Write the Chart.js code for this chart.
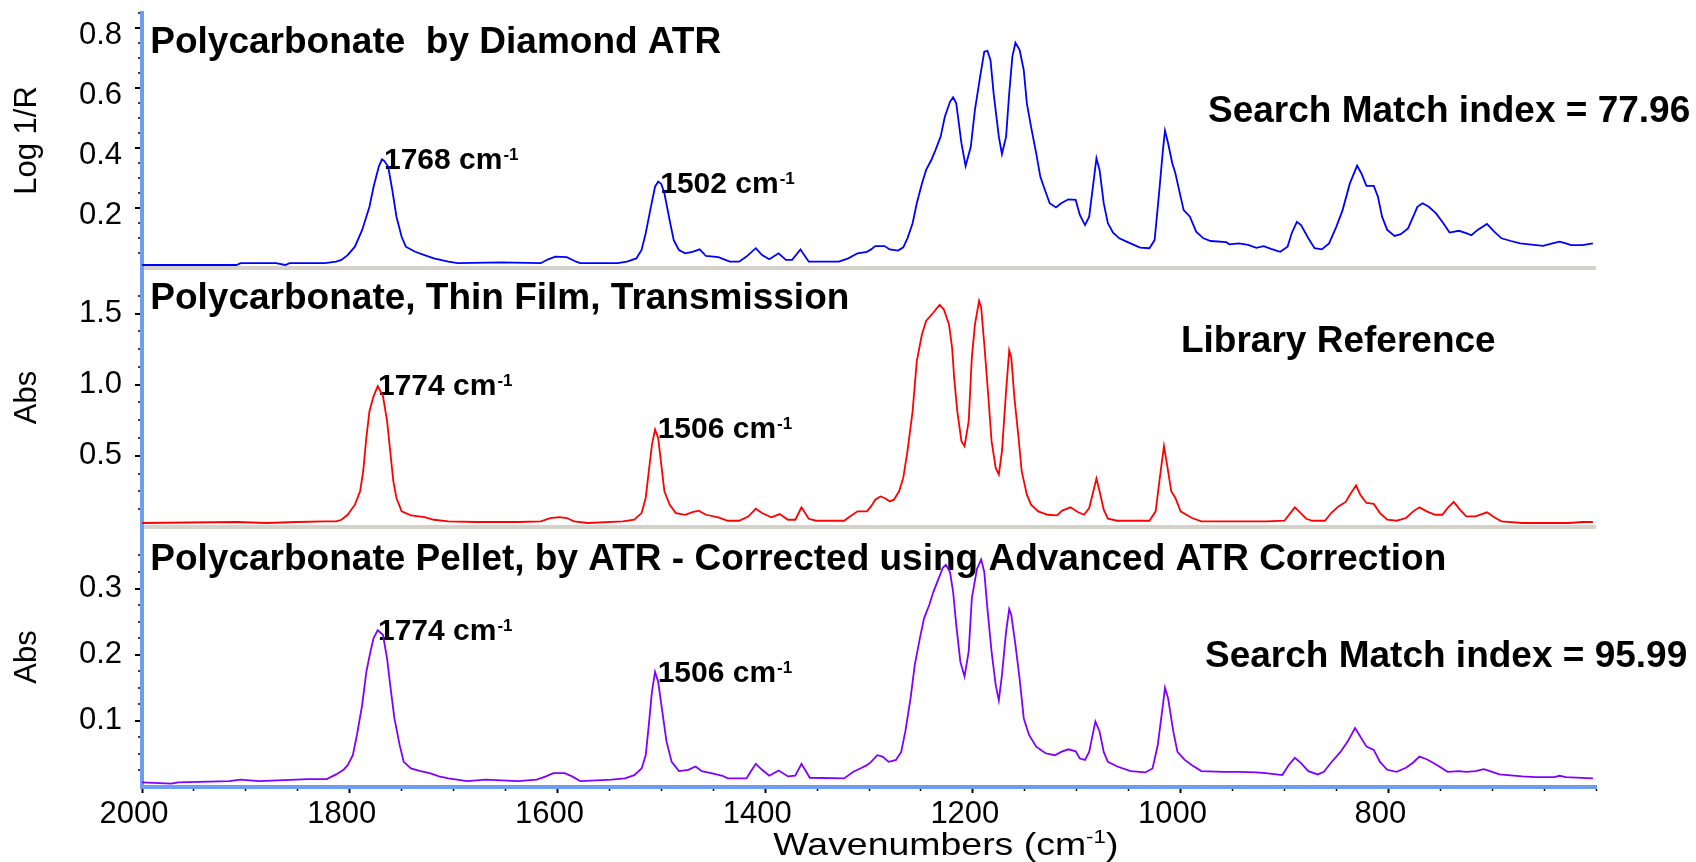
<!DOCTYPE html>
<html>
<head>
<meta charset="utf-8">
<title>Polycarbonate spectra</title>
<script src="https://cdn.jsdelivr.net/npm/chart.js@4.4.1/dist/chart.umd.min.js"></script>
<style>
  html, body { margin: 0; padding: 0; background: #fff; }
  #wrap { width: 1696px; height: 862px; position: relative; }
</style>
</head>
<body>
<div id="wrap"><canvas id="spectra"></canvas></div>
<script>
"use strict";

/*----------------------------------------*/
/*  data
/*----------------------------------------*/
var diamondWn = [2000,1909,1905,1871,1862,1858,1824,1813,1808,1802,1795,1788,1781,1777,1772,1769,1767,1763,1759,1755,
  1750,1746,1737,1728,1719,1705,1696,1654,1616,1609,1602,1591,1582,1578,1542,1533,1524,1519,1515,1510,
  1506,1503,1500,1497,1492,1488,1483,1477,1470,1463,1457,1445,1434,1425,1418,1409,1403,1396,1387,1380,
  1374,1366,1358,1329,1320,1311,1302,1298,1294,1285,1280,1272,1267,1263,1258,1254,1249,1245,1240,1236,
  1231,1227,1222,1219,1216,1211,1207,1202,1198,1193,1189,1186,1183,1180,1175,1172,1168,1165,1162,1159,
  1155,1151,1148,1144,1139,1135,1130,1126,1120,1115,1108,1101,1097,1092,1088,1084,1081,1078,1074,1070,
  1065,1059,1052,1045,1039,1030,1025,1021,1017,1015,1012,1008,1005,1000,997,991,985,978,971,956,
  953,944,935,927,920,913,904,897,893,888,884,877,871,864,857,850,844,837,830,826,
  821,814,810,806,801,794,788,781,776,772,767,761,754,747,741,732,725,720,714,705,
  698,691,682,673,662,651,642,635,629,624,613,603];
var diamondLogR = [0.010,0.010,0.016,0.016,0.010,0.016,0.016,0.021,0.027,0.043,0.071,0.127,0.204,0.271,0.338,0.362,0.358,0.338,0.260,0.171,
  0.104,0.071,0.054,0.043,0.032,0.021,0.016,0.019,0.016,0.029,0.038,0.036,0.021,0.016,0.016,0.021,0.032,0.060,0.116,0.204,
  0.271,0.288,0.280,0.249,0.160,0.093,0.060,0.049,0.054,0.062,0.040,0.036,0.021,0.021,0.038,0.066,0.043,0.029,0.049,0.027,
  0.027,0.062,0.021,0.021,0.032,0.049,0.054,0.062,0.073,0.073,0.062,0.058,0.069,0.099,0.149,0.216,0.282,0.327,0.360,0.393,
  0.438,0.504,0.554,0.569,0.549,0.416,0.340,0.404,0.527,0.638,0.721,0.724,0.693,0.582,0.438,0.380,0.438,0.582,0.704,0.751,
  0.727,0.660,0.549,0.471,0.382,0.304,0.254,0.216,0.202,0.216,0.229,0.227,0.177,0.143,0.171,0.282,0.366,0.327,0.216,0.149,
  0.118,0.099,0.088,0.077,0.068,0.066,0.093,0.238,0.393,0.458,0.416,0.349,0.316,0.238,0.193,0.171,0.121,0.099,0.090,0.086,
  0.079,0.082,0.077,0.067,0.073,0.064,0.054,0.071,0.116,0.154,0.143,0.099,0.066,0.062,0.082,0.138,0.193,0.282,0.341,0.316,
  0.274,0.274,0.238,0.171,0.127,0.107,0.113,0.132,0.171,0.204,0.216,0.204,0.182,0.149,0.118,0.124,0.116,0.109,0.127,0.147,
  0.121,0.099,0.090,0.082,0.078,0.074,0.082,0.088,0.082,0.076,0.076,0.082];

var libraryWn = [2000,1909,1880,1851,1824,1813,1808,1802,1795,1790,1787,1784,1781,1777,1773,1768,1764,1761,1758,1755,
  1750,1741,1728,1719,1705,1678,1638,1616,1607,1598,1591,1584,1571,1537,1526,1519,1515,1512,1509,1506,
  1503,1500,1497,1492,1486,1477,1470,1464,1457,1445,1436,1425,1416,1409,1403,1394,1386,1378,1371,1365,
  1358,1351,1324,1318,1311,1302,1298,1294,1289,1285,1280,1276,1271,1267,1263,1258,1254,1249,1245,1238,
  1232,1228,1223,1220,1218,1215,1211,1208,1204,1201,1198,1194,1192,1189,1185,1182,1178,1175,1172,1168,
  1165,1163,1160,1156,1153,1148,1144,1137,1128,1119,1114,1106,1099,1093,1088,1084,1081,1078,1074,1070,
  1061,1030,1024,1020,1016,1013,1009,1005,1000,989,980,940,917,900,893,890,886,879,873,861,
  855,848,841,837,831,827,821,814,808,801,792,783,776,770,763,755,748,743,737,731,
  725,716,705,698,691,671,626,613,603];
var libraryAbs = [0.028,0.035,0.028,0.035,0.040,0.040,0.051,0.086,0.157,0.251,0.392,0.626,0.814,0.920,0.990,0.920,0.744,0.532,0.321,0.204,
  0.110,0.082,0.070,0.051,0.040,0.035,0.035,0.040,0.063,0.070,0.063,0.040,0.028,0.040,0.051,0.098,0.204,0.392,0.579,0.685,
  0.626,0.439,0.251,0.157,0.098,0.086,0.105,0.115,0.086,0.068,0.044,0.044,0.075,0.129,0.098,0.068,0.091,0.051,0.051,0.138,
  0.058,0.044,0.044,0.075,0.110,0.110,0.145,0.192,0.215,0.204,0.180,0.192,0.251,0.345,0.532,0.814,1.166,1.354,1.448,1.507,
  1.561,1.530,1.424,1.260,1.049,0.814,0.603,0.568,0.744,1.190,1.424,1.589,1.542,1.284,0.908,0.603,0.415,0.368,0.532,0.955,
  1.241,1.190,0.908,0.626,0.392,0.227,0.157,0.110,0.086,0.082,0.115,0.138,0.105,0.086,0.133,0.251,0.340,0.251,0.122,0.058,
  0.044,0.044,0.110,0.345,0.568,0.439,0.251,0.204,0.110,0.063,0.040,0.040,0.040,0.044,0.110,0.138,0.110,0.058,0.044,0.044,
  0.098,0.145,0.176,0.227,0.293,0.227,0.169,0.162,0.098,0.051,0.044,0.063,0.110,0.138,0.110,0.086,0.086,0.133,0.176,0.122,
  0.075,0.075,0.103,0.068,0.040,0.028,0.028,0.035,0.035];

var pelletWn = [2000,1972,1965,1916,1905,1887,1840,1822,1817,1813,1806,1802,1797,1793,1788,1784,1780,1777,1773,1768,
  1764,1761,1757,1752,1748,1741,1732,1723,1714,1705,1687,1669,1638,1620,1611,1604,1593,1586,1578,1548,
  1535,1526,1519,1515,1512,1509,1506,1503,1499,1495,1490,1483,1474,1467,1461,1452,1441,1436,1418,1414,
  1409,1403,1396,1387,1378,1371,1365,1357,1324,1315,1307,1302,1298,1292,1287,1281,1274,1269,1265,1260,
  1256,1251,1247,1242,1238,1233,1229,1226,1222,1219,1216,1212,1208,1204,1201,1196,1192,1189,1186,1182,
  1178,1175,1172,1168,1165,1163,1159,1155,1151,1146,1139,1130,1121,1115,1108,1101,1097,1092,1088,1084,
  1082,1078,1074,1070,1061,1048,1034,1027,1022,1017,1015,1012,1007,1003,996,989,980,958,944,927,
  918,902,896,890,884,877,868,862,855,846,839,832,828,821,814,808,801,792,783,776,
  770,763,756,749,743,732,725,716,708,702,693,671,658,640,635,629,603];
var pelletAbs = [0.007,0.005,0.007,0.009,0.011,0.009,0.012,0.012,0.016,0.019,0.026,0.033,0.048,0.079,0.124,0.174,0.205,0.225,0.237,0.230,
  0.194,0.154,0.104,0.064,0.038,0.028,0.024,0.021,0.016,0.013,0.009,0.011,0.009,0.011,0.016,0.021,0.021,0.016,0.009,0.011,
  0.013,0.018,0.028,0.048,0.094,0.144,0.174,0.159,0.114,0.069,0.038,0.024,0.026,0.031,0.024,0.021,0.017,0.013,0.013,0.023,
  0.035,0.026,0.017,0.025,0.016,0.017,0.035,0.014,0.013,0.023,0.029,0.033,0.038,0.048,0.046,0.038,0.041,0.053,0.084,0.134,
  0.184,0.225,0.255,0.275,0.295,0.315,0.331,0.336,0.325,0.295,0.245,0.189,0.167,0.205,0.285,0.330,0.344,0.325,0.270,0.205,
  0.154,0.131,0.169,0.235,0.269,0.260,0.215,0.164,0.104,0.079,0.061,0.051,0.048,0.053,0.057,0.054,0.043,0.041,0.053,0.084,
  0.099,0.084,0.053,0.038,0.031,0.024,0.022,0.028,0.063,0.124,0.150,0.134,0.084,0.053,0.041,0.033,0.024,0.023,0.023,0.022,
  0.021,0.018,0.033,0.044,0.036,0.024,0.019,0.023,0.037,0.053,0.069,0.089,0.079,0.061,0.056,0.038,0.026,0.023,0.029,0.037,
  0.046,0.042,0.036,0.029,0.023,0.024,0.023,0.024,0.027,0.024,0.019,0.016,0.015,0.015,0.017,0.015,0.013];

// labelled ticks
var wnTickLabels = [2000, 1800, 1600, 1400, 1200, 1000, 800];
var logRTickLabels = [0.2, 0.4, 0.6, 0.8];
var libTickLabels = [0.5, 1.0, 1.5];
var pelletTickLabels = [0.1, 0.2, 0.3];

var FONT = '"Liberation Sans", Arial, sans-serif';
var AXIS_BLUE = '#6d9cf0';
var SEP_GREY = '#d5d2cb';

function pairs(wn, vals) {
	return wn.map(function (w, i) { return { x: w, y: vals[i] }; });
}

function inList(list, v) {
	return list.some(function (t) { return Math.abs(t - v) < 1e-6; });
}

function onStep(v, step) {
	var r = v / step;
	return Math.abs(r - Math.round(r)) < 1e-6;
}

function yAxis(titleText, max, step, labels, weight, separator, labelShift) {
	return {
		type: 'linear',
		position: 'left',
		stack: 'panels',
		stackWeight: weight,
		min: 0,
		max: max,
		border: { color: AXIS_BLUE, width: 4 },
		grid: {
			drawOnChartArea: separator,
			color: SEP_GREY,
			lineWidth: function (c) { return c.tick && c.tick.value === 0 ? 4 : 0; },
			tickLength: 7,
			tickColor: function (c) {
				var v = c.tick ? c.tick.value : 0;
				return (v > 0 && onStep(v, step)) ? '#000' : 'rgba(0,0,0,0)';
			},
			tickWidth: function (c) { return c.tick && inList(labels, c.tick.value) ? 2 : 1.5; },
			tickBorderDash: function (c) { return c.tick && inList(labels, c.tick.value) ? [] : [0, 3, 2, 20]; }
		},
		ticks: {
			stepSize: step,
			autoSkip: false,
			padding: 13,
			labelOffset: labelShift,
			color: '#000',
			font: { family: FONT, size: 31 },
			callback: function (v) { return inList(labels, v) ? v.toFixed(1) : ''; }
		},
		title: {
			display: true,
			text: titleText,
			color: '#000',
			font: { family: FONT, size: 31, lineHeight: 1 },
			padding: { top: 12, bottom: 0 }
		},
		afterFit: function (s) {
			s.width = 142;
			s.paddingTop = 0;
			s.paddingBottom = 0;
		}
	};
}

// text written on the plot, placed in data units of each panel
var notes = [
	{ axis: 'y1', wn: 1992, val: 0.718, size: 37, text: 'Polycarbonate  by Diamond ATR' },
	{ axis: 'y1', wn: 1767, val: 0.330, size: 30, text: '1768 cm', sup: '-1' },
	{ axis: 'y1', wn: 1501, val: 0.251, size: 30, text: '1502 cm', sup: '-1' },
	{ axis: 'y1', wn: 973.6, val: 0.488, size: 37, text: 'Search Match index = 77.96' },
	{ axis: 'y2', wn: 1992, val: 1.530, size: 37, text: 'Polycarbonate, Thin Film, Transmission' },
	{ axis: 'y2', wn: 1772.8, val: 0.925, size: 30, text: '1774 cm', sup: '-1' },
	{ axis: 'y2', wn: 1503.5, val: 0.622, size: 30, text: '1506 cm', sup: '-1' },
	{ axis: 'y2', wn: 999.6, val: 1.232, size: 37, text: 'Library Reference' },
	{ axis: 'y3', wn: 1992, val: 0.328, size: 37, text: 'Polycarbonate Pellet, by ATR - Corrected using Advanced ATR Correction' },
	{ axis: 'y3', wn: 1772.8, val: 0.222, size: 30, text: '1774 cm', sup: '-1' },
	{ axis: 'y3', wn: 1503.5, val: 0.159, size: 30, text: '1506 cm', sup: '-1' },
	{ axis: 'y3', wn: 976.5, val: 0.182, size: 37, text: 'Search Match index = 95.99' }
];

// x axis title, written with a real superscript (the original type is drawn a little wide)
var xTitle = { wn: 1226, size: 32, stretch: 1.17, text: 'Wavenumbers (cm', sup: '-1', tail: ')' };

var notePlugin = {
	id: 'notes',
	beforeDatasetsDraw: function (chart) {
		var ctx = chart.ctx;
		ctx.save();
		ctx.fillStyle = '#000';
		ctx.textAlign = 'left';
		ctx.textBaseline = 'alphabetic';
		notes.forEach(function (n) {
			var x = chart.scales.x.getPixelForValue(n.wn);
			var y = chart.scales[n.axis].getPixelForValue(n.val);
			ctx.font = 'bold ' + n.size + 'px ' + FONT;
			ctx.fillText(n.text, x, y);
			if (n.sup) {
				var w = ctx.measureText(n.text).width;
				ctx.font = 'bold 17px ' + FONT;
				ctx.fillText(n.sup, x + w + 1, y - 9);
			}
		});
		ctx.restore();
	},
	afterDraw: function (chart) {
		var ctx = chart.ctx;
		var xs = chart.scales.x;
		ctx.save();
		ctx.fillStyle = '#000';
		ctx.textAlign = 'left';
		ctx.textBaseline = 'alphabetic';
		var mainFont = xTitle.size + 'px ' + FONT;
		var supFont = Math.round(xTitle.size * 0.6) + 'px ' + FONT;
		ctx.font = mainFont;
		var w1 = ctx.measureText(xTitle.text).width;
		var w3 = ctx.measureText(xTitle.tail).width;
		ctx.font = supFont;
		var w2 = ctx.measureText(xTitle.sup).width;
		var total = (w1 + w2 + w3) * xTitle.stretch;
		var left = xs.getPixelForValue(xTitle.wn) - total / 2;
		var base = xs.bottom - 7;
		ctx.translate(left, base);
		ctx.scale(xTitle.stretch, 1);
		ctx.font = mainFont;
		ctx.fillText(xTitle.text, 0, 0);
		ctx.fillText(xTitle.tail, w1 + w2, 0);
		ctx.font = supFont;
		ctx.fillText(xTitle.sup, w1, -12);
		ctx.restore();
	}
};

var ctx = document.getElementById("spectra");
var spectra = new Chart(ctx, {
	type: 'line',
	data: {
		datasets: [{
			label: 'Diamond ATR',
			data: pairs(diamondWn, diamondLogR),
			yAxisID: 'y1',
			borderColor: '#0000ff'
		}, {
			label: 'Library Reference',
			data: pairs(libraryWn, libraryAbs),
			yAxisID: 'y2',
			borderColor: '#ff0000'
		}, {
			label: 'Pellet ATR corrected',
			data: pairs(pelletWn, pelletAbs),
			yAxisID: 'y3',
			borderColor: '#8000ff'
		}]
	},
	options: {
		responsive: true,
		maintainAspectRatio: false,
		animation: false,
		devicePixelRatio: 1,
		layout: { padding: { top: 13, right: 100, bottom: 0, left: 0 } },
		elements: {
			point: { radius: 0 },
			line: { borderWidth: 1.8, tension: 0 }
		},
		plugins: {
			legend: { display: false },
			tooltip: { enabled: false }
		},
		scales: {
			x: {
				type: 'linear',
				position: 'bottom',
				min: 600,
				max: 2000,
				reverse: true,
				border: { color: AXIS_BLUE, width: 4 },
				grid: {
					drawOnChartArea: false,
					tickLength: 6,
					tickColor: '#000',
					tickWidth: function (c) { return c.tick && inList(wnTickLabels, c.tick.value) ? 2 : 1.5; },
					tickBorderDash: function (c) { return c.tick && inList(wnTickLabels, c.tick.value) ? [] : [2, 20]; }
				},
				ticks: {
					stepSize: 50,
					autoSkip: false,
					maxRotation: 0,
					minRotation: 0,
					padding: 3,
					labelOffset: -8,
					color: '#000',
					font: { family: FONT, size: 31 },
					callback: function (v) { return inList(wnTickLabels, v) ? String(v) : ''; }
				},
				title: { display: false },
				afterFit: function (s) {
					s.height = 75;
					s.paddingLeft = 0;
					s.paddingRight = 0;
				}
			},
			y3: yAxis('Abs', 0.393, 0.025, pelletTickLabels, 260, false, 0),
			y2: yAxis('Abs', 1.82, 0.125, libTickLabels, 259, true, 0),
			y1: yAxis('Log 1/R', 0.85, 0.05, logRTickLabels, 255, true, 7)
		}
	},
	plugins: [notePlugin]
});
</script>
</body>
</html>
